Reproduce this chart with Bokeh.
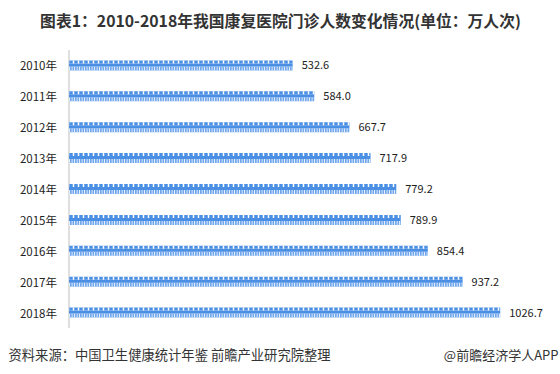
from bokeh.plotting import figure
from bokeh.models import Range1d, FactorRange, Label
from bokeh.transform import dodge
from bokeh.core.properties import value
from bokeh.embed import file_html
from bokeh.resources import INLINE

years = ["2010年", "2011年", "2012年", "2013年", "2014年", "2015年", "2016年", "2017年", "2018年"]
visits = [532.6, 584.0, 667.7, 717.9, 779.2, 789.9, 854.4, 937.2, 1026.7]
value_labels = ["532.6", "584.0", "667.7", "717.9", "779.2", "789.9", "854.4", "937.2", "1026.7"]

title_text = "图表1：2010-2018年我国康复医院门诊人数变化情况(单位：万人次)"
source_text = "资料来源：中国卫生健康统计年鉴 前瞻产业研究院整理"
brand_text = "@前瞻经济学人APP"

FONT = "Noto Sans CJK SC"
W, H = 560, 374
TOP = 3                      # frame starts 3px below canvas top
ROW = 278 / len(years)       # px per category row
PAD = ((H - TOP) - 278) / 2 / ROW   # padding (per side) in category units
PXU = 0.42                   # px per data unit on x
ZERO = 68.5                  # canvas x of value 0
x0 = -ZERO / PXU
x1 = x0 + W / PXU

def xd(px):
    return x0 + px / PXU

def yd(py):
    return -PAD + (H - py) / ROW

p = figure(width=W, height=H, output_backend="svg", toolbar_location=None,
           y_range=FactorRange(factors=years[::-1], range_padding=PAD,
                               range_padding_units="absolute"),
           x_range=Range1d(x0, x1),
           min_border_left=0, min_border_top=TOP, min_border_bottom=0, min_border_right=0)
p.outline_line_color = None
p.grid.visible = False
p.xaxis.visible = False
p.yaxis.visible = False
p.background_fill_color = "white"
p.border_fill_color = "white"

src = dict(year=years, v=visits, lab=value_labels, zero=[0] * len(years))
u = 1 / ROW
BLUE = "#4a8fe3"

# axis line spanning the category rows
p.segment(x0=0, x1=0,
          y0=dodge("a", 0.5, range=p.y_range), y1=dodge("b", -0.5, range=p.y_range),
          source=dict(a=[years[0]], b=[years[-1]]), line_color="#d4d4d4", line_width=1.5)

# legs
p.hbar(y=dodge("year", -3.0 * u, range=p.y_range), right="v", left=0, height=4 * u,
       source=src, fill_color="#6fa6ec", line_color=None,
       hatch_pattern="vertical_line", hatch_color="white", hatch_scale=2.5, hatch_weight=1)
# body
p.hbar(y=dodge("year", 0.5 * u, range=p.y_range), right="v", left=0, height=3 * u,
       source=src, fill_color=BLUE, line_color=None)
# heads
p.hbar(y=dodge("year", 3.5 * u, range=p.y_range), right="v", left=0, height=3 * u,
       source=src, fill_color=BLUE, line_color=None,
       hatch_pattern="vertical_line", hatch_color="white", hatch_scale=5, hatch_weight=1.5)

# value labels
p.text(x="v", y="year", text="lab", source=src, x_offset=9, text_baseline="middle",
       text_font=value(FONT), text_font_size="11px", text_color="#222222")
# category labels
p.text(x="zero", y="year", text="year", source=src, x_offset=-12, text_align="right",
       text_baseline="middle", text_font=value(FONT), text_font_size="11.5px",
       text_color="#222222")

p.add_layout(Label(x=xd(280), y=yd(20), text=title_text,
                   text_align="center", text_baseline="middle", text_font=FONT,
                   text_font_size="15.8px", text_font_style="bold", text_color="#333333"))
p.add_layout(Label(x=xd(8), y=yd(354), text=source_text,
                   text_align="left", text_baseline="middle", text_font=FONT,
                   text_font_size="13.3px", text_color="#333333"))
p.add_layout(Label(x=xd(558), y=yd(354), text=brand_text,
                   text_align="right", text_baseline="middle", text_font=FONT,
                   text_font_size="13px", text_color="#333333"))

open("out.html", "w").write(file_html(p, INLINE))
